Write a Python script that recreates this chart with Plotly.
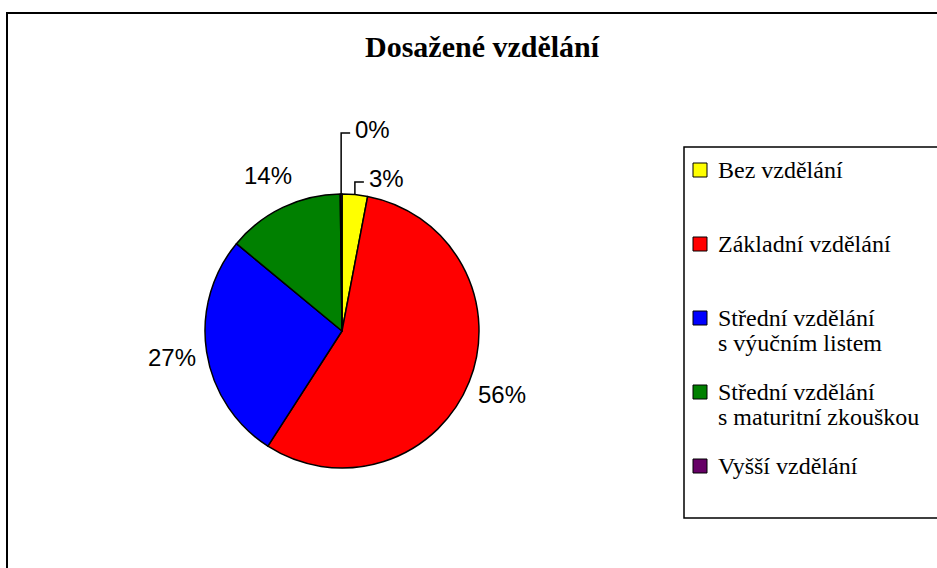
import math
import plotly.graph_objects as go

# ---- data ----
categories = [
    "Bez vzdělání",
    "Základní vzdělání",
    "Střední vzdělání\ns výučním listem",
    "Střední vzdělání\ns maturitní zkouškou",
    "Vyšší vzdělání",
]
shares = [3.0, 56.1, 26.9, 13.8, 0.2]
colors = ["#FFFF00", "#FF0000", "#0000FF", "#008000", "#660066"]
title_text = "Dosažené vzdělání"

# ---- layout helpers (pixel -> paper) ----
W, H = 937, 568
def px(x):
    return x / W
def py(y):
    return 1 - y / H

CX, CY, R = 342, 331, 137
LABEL_R = 172
SERIF = "Liberation Serif, Times New Roman, serif"
SANS = "Liberation Sans, Arial, sans-serif"

fig = go.Figure()
fig.add_trace(go.Pie(
    values=shares,
    labels=[c.replace("\n", " ") for c in categories],
    sort=False,
    direction="clockwise",
    rotation=0,
    marker=dict(colors=colors, line=dict(color="black", width=1.5)),
    textinfo="none",
    showlegend=False,
    domain=dict(x=[px(CX - R), px(CX + R)], y=[py(CY + R), py(CY - R)]),
))

annotations = []
shapes = []

# percentage labels
total = sum(shares)
cum = 0.0
small_k = 0
for v in shares:
    mid = (cum + v / 2) / total
    cum += v
    th = 2 * math.pi * mid
    sx, sy = math.sin(th), -math.cos(th)
    txt = f"{round(v / total * 100)}%"
    if v / total * 100 >= 5:
        annotations.append(dict(
            x=px(CX + LABEL_R * sx), y=py(CY + LABEL_R * sy),
            xref="paper", yref="paper", text=txt, showarrow=False,
            xanchor="center", yanchor="middle",
            font=dict(family=SANS, size=24, color="black"),
        ))
    else:
        xr, yr = CX + R * sx, CY + R * sy
        level = 182 - 49 * small_k
        small_k += 1
        shapes.append(dict(type="path", xref="paper", yref="paper",
                           path=f"M {px(xr)} {py(yr)} L {px(xr)} {py(level)} L {px(xr + 9)} {py(level)}",
                           line=dict(color="black", width=1.5)))
        annotations.append(dict(
            x=px(xr + 12), y=py(level - 4),
            xref="paper", yref="paper", text=txt, showarrow=False,
            xanchor="left", yanchor="middle",
            font=dict(family=SANS, size=24, color="black"),
        ))

# title
annotations.append(dict(
    x=px(482), y=py(46), xref="paper", yref="paper",
    text=f"<b>{title_text}</b>", showarrow=False,
    xanchor="center", yanchor="middle",
    font=dict(family=SERIF, size=30, color="black"),
))

# outer border
shapes.append(dict(type="rect", xref="paper", yref="paper",
                   x0=px(7), y0=py(13), x1=1.05, y1=-0.05,
                   line=dict(color="black", width=2), layer="below"))
# legend box
shapes.append(dict(type="rect", xref="paper", yref="paper",
                   x0=px(684), y0=py(147), x1=1.05, y1=py(518),
                   line=dict(color="black", width=1.5), layer="below"))

# legend entries
LEG_Y0, LEG_STEP, LINE_H = 170, 74, 25
for i, (lab, col) in enumerate(zip(categories, colors)):
    yc = LEG_Y0 + i * LEG_STEP
    shapes.append(dict(type="rect", xref="paper", yref="paper",
                       x0=px(693), x1=px(707), y0=py(yc - 7), y1=py(yc + 7),
                       fillcolor=col, line=dict(color="black", width=1)))
    for j, line in enumerate(lab.split("\n")):
        annotations.append(dict(
            x=px(716), y=py(yc + j * LINE_H), xref="paper", yref="paper",
            text=line, showarrow=False, xanchor="left", yanchor="middle",
            font=dict(family=SERIF, size=24, color="black"),
        ))

fig.update_layout(
    width=W, height=H,
    margin=dict(l=0, r=0, t=0, b=0),
    paper_bgcolor="white", plot_bgcolor="white",
    annotations=annotations, shapes=shapes,
    showlegend=False,
)

fig.write_html("out.html", config={"displayModeBar": False},
               post_script="document.body.style.margin='0px';")
